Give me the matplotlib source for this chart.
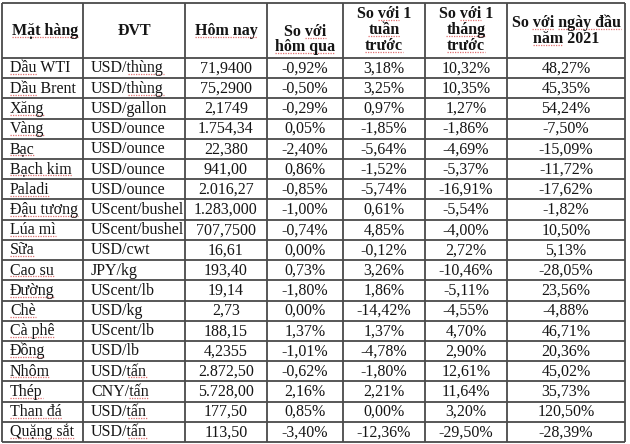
import matplotlib.pyplot as plt

# ===============================================
# Commodity price table
# ===============================================

headers = ["Mặt hàng", "ĐVT", "Hôm nay", "So với\nhôm qua",
           "So với 1\ntuần\ntrước", "So với 1\ntháng\ntrước",
           "So với ngày đầu\nnăm 2021"]

items = ["Dầu WTI", "Dầu Brent", "Xăng", "Vàng", "Bạc", "Bạch kim", "Paladi",
         "Đậu tương", "Lúa mì", "Sữa", "Cao su", "Đường", "Chè", "Cà phê",
         "Đồng", "Nhôm", "Thép", "Than đá", "Quặng sắt"]

units = ["USD/thùng", "USD/thùng", "USD/gallon", "USD/ounce", "USD/ounce",
         "USD/ounce", "USD/ounce", "UScent/bushel", "UScent/bushel", "USD/cwt",
         "JPY/kg", "UScent/lb", "USD/kg", "UScent/lb", "USD/lb", "USD/tấn",
         "CNY/tấn", "USD/tấn", "USD/tấn"]

today = ["71,9400", "75,2900", "2,1749", "1.754,34", "22,380", "941,00",
         "2.016,27", "1.283,000", "707,7500", "16,61", "193,40", "19,14",
         "2,73", "188,15", "4,2355", "2.872,50", "5.728,00", "177,50", "113,50"]

vs_day = ["-0,92%", "-0,50%", "-0,29%", "0,05%", "-2,40%", "0,86%", "-0,85%",
          "-1,00%", "-0,74%", "0,00%", "0,73%", "-1,80%", "0,00%", "1,37%",
          "-1,01%", "-0,62%", "2,16%", "0,85%", "-3,40%"]

vs_week = ["3,18%", "3,25%", "0,97%", "-1,85%", "-5,64%", "-1,52%", "-5,74%",
           "0,61%", "4,85%", "-0,12%", "3,26%", "1,86%", "-14,42%", "1,37%",
           "-4,78%", "-1,80%", "2,21%", "0,00%", "-12,36%"]

vs_month = ["10,32%", "10,35%", "1,27%", "-1,86%", "-4,69%", "-5,37%",
            "-16,91%", "-5,54%", "-4,00%", "2,72%", "-10,46%", "-5,11%",
            "-4,55%", "4,70%", "2,90%", "12,61%", "11,64%", "3,20%", "-29,50%"]

vs_year = ["48,27%", "45,35%", "54,24%", "-7,50%", "-15,09%", "-11,72%",
           "-17,62%", "-1,82%", "10,50%", "5,13%", "-28,05%", "23,56%",
           "-4,88%", "46,71%", "20,36%", "45,02%", "35,73%", "120,50%",
           "-28,39%"]

# layout in pixels
col_x = [2, 83, 185, 267, 343, 425, 507, 625]
top, head_bot, bottom = 3, 58, 442
row_h = (bottom - head_bot) / len(items)
txt_color = "#151515"
squiggle = dict(color="#e07070", lw=0.9, ls=(0, (1, 1)))

plt.rcParams["font.family"] = ["Liberation Serif", "DejaVu Serif"]

fig = plt.figure(figsize=(6.3, 4.44), dpi=100)
ax = fig.add_axes([0, 0, 1, 1])
ax.set_xlim(0, 630)
ax.set_ylim(444, 0)
ax.axis("off")
renderer = fig.canvas.get_renderer()


def text_width(s, **kw):
    # width of a string in data (pixel) units
    t = ax.text(0, 0, s, **kw)
    bb = t.get_window_extent(renderer)
    t.remove()
    return bb.width


def underline(x, y, s, start, part, **kw):
    # red spell-check line under part of a left-aligned string
    x0 = x + text_width(s[:start], **kw) if start else x
    w = text_width(part, **kw)
    ax.hlines(y + 1.8, x0, x0 + w, **squiggle)


line_kw = dict(color="#4a4a4a", lw=1.3)
ax.hlines(top, col_x[0], col_x[-1], **line_kw)
ax.hlines(head_bot, col_x[0], col_x[-1], **line_kw)
for i in range(1, len(items) + 1):
    ax.hlines(head_bot + i * row_h, col_x[0], col_x[-1], **line_kw)
ax.vlines(col_x, top, bottom, **line_kw)

# header
head_kw = dict(fontsize=11.5, fontweight="bold", color=txt_color)
head_y = [[35], [35], [35], [36, 51], [18, 34, 50], [18, 34, 50], [27, 43]]
for j, h in enumerate(headers):
    lines = h.split("\n")
    cx = (col_x[j] + col_x[j + 1]) / 2
    for k, ln in enumerate(lines):
        y = head_y[j][k]
        if j == 0:
            x = col_x[0] + 10
            ax.text(x, y, ln, ha="left", va="baseline", **head_kw)
            underline(x, y, ln, 0, ln, **head_kw)
            continue
        ax.text(cx, y, ln, ha="center", va="baseline", **head_kw)
        w = text_width(ln, **head_kw)
        x = cx - w / 2
        if ln in ("Hôm nay", "hôm qua", "tuần", "trước", "tháng"):
            underline(x, y, ln, 0, ln, **head_kw)
        elif ln.startswith("So với"):
            underline(x, y, ln, 3, "với", **head_kw)
            if "ngày đầu" in ln:
                underline(x, y, ln, ln.index("ngày"), "ngày đầu", **head_kw)
        elif ln.startswith("năm"):
            underline(x, y, ln, 0, "năm", **head_kw)

# body
body_kw = dict(fontsize=11.5, color=txt_color)
cols = [items, units, today, vs_day, vs_week, vs_month, vs_year]
for i in range(len(items)):
    y = head_bot + i * row_h + 14.5
    for j, col in enumerate(cols):
        s = col[i]
        if j < 2:
            x = col_x[j] + 8
            ax.text(x, y, s, ha="left", va="baseline", **body_kw)
            if j == 0:
                part = s.split()[0] if s.startswith("Dầu") else s
                underline(x, y, s, 0, part, **body_kw)
            elif "/" in s and s.split("/")[1] in ("thùng", "tấn"):
                k = s.index("/") + 1
                underline(x, y, s, k, s[k:], **body_kw)
        else:
            x = (col_x[j] + col_x[j + 1]) / 2
            ax.text(x, y, s, ha="center", va="baseline", **body_kw)

fig.savefig("out.png", dpi=100)
